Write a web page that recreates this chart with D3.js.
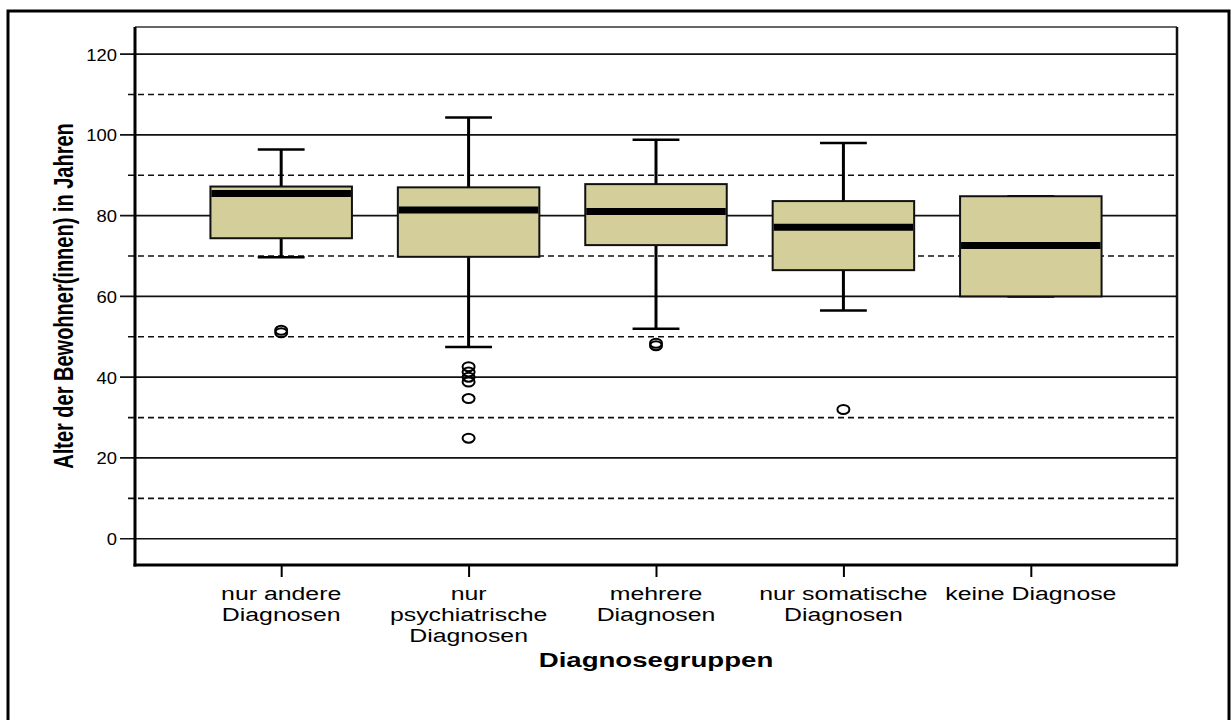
<!DOCTYPE html>
<html>
<head>
<meta charset="utf-8">
<script src="https://cdn.jsdelivr.net/npm/d3@7"></script>
<style>
  html, body { margin: 0; padding: 0; background: #fff; }
  svg { display: block; font-family: "Liberation Sans", Arial, Helvetica, sans-serif; }
</style>
</head>
<body>
<svg id="chart" width="1231" height="720"></svg>
<script>
// Diagnosis groups (x categories)
const categories = [
  ["nur andere", "Diagnosen"],
  ["nur", "psychiatrische", "Diagnosen"],
  ["mehrere", "Diagnosen"],
  ["nur somatische", "Diagnosen"],
  ["keine Diagnose"]
];
// Five-number summaries per group (age in years)
const whiskerLow  = [69.7, 47.5, 52.0, 56.5, 60.0];
const quartile1   = [74.4, 69.8, 72.7, 66.5, 60.0];
const medians     = [85.5, 81.4, 81.0, 77.1, 72.6];
const quartile3   = [87.2, 87.0, 87.8, 83.6, 84.8];
const whiskerHigh = [96.4, 104.3, 98.8, 98.0, 84.8];
// Outlying ages per group
const outliers = [
  [51.0, 51.6],
  [42.6, 41.3, 40.0, 38.8, 34.7, 24.9],
  [48.4, 47.8],
  [32.0],
  []
];
const majorTicks = [0, 20, 40, 60, 80, 100, 120];
const minorTicks = [10, 30, 50, 70, 90, 110];
const xTitle = "Diagnosegruppen";
const yTitle = "Alter der Bewohner(innen) in Jahren";

const svg = d3.select("#chart");
const SX = 1.38; // horizontal text stretch
const plot = { left: 135, right: 1177, top: 27, bottom: 565 };

// outer frame
svg.append("rect")
  .attr("x", 8).attr("y", 11).attr("width", 1221).attr("height", 800)
  .attr("fill", "none").attr("stroke", "#000").attr("stroke-width", 3);

const keys = categories.map((c, i) => i);
const x = d3.scalePoint().domain(keys).range([plot.left, plot.right]).padding(0.78);
const y = d3.scaleLinear().domain([-6.5, 126.7]).range([plot.bottom, plot.top]);
const step = x.step();
const boxW = step * 0.755;
const capW = step * 0.25;

// grid: solid at major ticks (running through the tick marks), dashed at minor ticks
svg.append("g").selectAll("line").data(majorTicks).join("line")
  .attr("x1", plot.left - 15).attr("x2", plot.right)
  .attr("y1", d => y(d)).attr("y2", d => y(d))
  .attr("stroke", "#111").attr("stroke-width", 1.7);
svg.append("g").selectAll("line").data(minorTicks).join("line")
  .attr("x1", plot.left - 7).attr("x2", plot.right)
  .attr("y1", d => y(d)).attr("y2", d => y(d))
  .attr("stroke", "#111").attr("stroke-width", 1.6)
  .attr("stroke-dasharray", "6,4");

// y axis labels
const yAxis = d3.axisLeft(y).tickValues(majorTicks).tickSize(0).tickPadding(0);
const gy = svg.append("g").attr("transform", `translate(${plot.left},0)`).call(yAxis);
gy.select(".domain").remove();
gy.attr("font-size", null);
gy.selectAll(".tick text")
  .attr("x", 0).attr("dy", null)
  .attr("transform", `translate(-18,6) scale(1.15,1)`)
  .attr("text-anchor", "end")
  .attr("fill", "#000")
  .style("font-size", "16px")
  .style("font-family", "'Liberation Sans', Arial, sans-serif");

// plot frame: thin top, right edge, heavy left and bottom axes
svg.append("line").attr("x1", plot.left).attr("x2", plot.right)
  .attr("y1", plot.top).attr("y2", plot.top).attr("stroke", "#333").attr("stroke-width", 1.5);
svg.append("line").attr("x1", plot.right).attr("x2", plot.right)
  .attr("y1", plot.top).attr("y2", plot.bottom).attr("stroke", "#111").attr("stroke-width", 2.5);
svg.append("line").attr("x1", plot.left).attr("x2", plot.left)
  .attr("y1", plot.top).attr("y2", plot.bottom + 1.5).attr("stroke", "#000").attr("stroke-width", 3);
svg.append("line").attr("x1", plot.left - 1.5).attr("x2", plot.right + 1)
  .attr("y1", plot.bottom).attr("y2", plot.bottom).attr("stroke", "#000").attr("stroke-width", 3);

// x ticks and multi-line category labels
const xAxis = d3.axisBottom(x).tickSize(12).tickFormat("");
const gx = svg.append("g").attr("transform", `translate(0,${plot.bottom})`).call(xAxis);
gx.select(".domain").remove();
gx.selectAll(".tick line").attr("stroke", "#000").attr("stroke-width", 2);

const lab = svg.append("g");
categories.forEach((lines, i) => {
  const t = lab.append("text")
    .attr("transform", `translate(${x(i)},599.5) scale(${SX},1)`)
    .attr("text-anchor", "middle").attr("font-size", 18).attr("fill", "#000");
  lines.forEach((ln, j) => {
    t.append("tspan").attr("x", 0).attr("y", j * 21.1).text(ln);
  });
});

// axis titles
svg.append("text")
  .attr("transform", `translate(${(plot.left + plot.right) / 2},666.5) scale(${SX},1)`)
  .attr("text-anchor", "middle").attr("font-size", 20).attr("font-weight", "bold")
  .attr("fill", "#000").text(xTitle);
svg.append("text")
  .attr("transform", `translate(73,${(plot.top + plot.bottom) / 2}) scale(${SX},1) rotate(-90)`)
  .attr("text-anchor", "middle").attr("font-size", 20).attr("font-weight", "bold")
  .attr("fill", "#000").text(yTitle);

// boxes
const boxes = svg.append("g");
keys.forEach(i => {
  const cx = x(i);
  const g = boxes.append("g");
  // whiskers
  g.append("line").attr("x1", cx).attr("x2", cx)
    .attr("y1", y(quartile3[i])).attr("y2", y(whiskerHigh[i]))
    .attr("stroke", "#000").attr("stroke-width", 3);
  g.append("line").attr("x1", cx).attr("x2", cx)
    .attr("y1", y(quartile1[i])).attr("y2", y(whiskerLow[i]))
    .attr("stroke", "#000").attr("stroke-width", 3);
  [whiskerHigh[i], whiskerLow[i]].forEach(v => {
    g.append("line").attr("x1", cx - capW / 2).attr("x2", cx + capW / 2)
      .attr("y1", y(v)).attr("y2", y(v))
      .attr("stroke", "#000").attr("stroke-width", 2.5);
  });
  // box
  g.append("rect")
    .attr("x", cx - boxW / 2).attr("width", boxW)
    .attr("y", y(quartile3[i])).attr("height", y(quartile1[i]) - y(quartile3[i]))
    .attr("fill", "#d3ce9a").attr("stroke", "#111").attr("stroke-width", 2);
  // median
  g.append("line").attr("x1", cx - boxW / 2 + 1).attr("x2", cx + boxW / 2 - 1)
    .attr("y1", y(medians[i])).attr("y2", y(medians[i]))
    .attr("stroke", "#000").attr("stroke-width", 7);
  // outliers
  g.selectAll("ellipse").data(outliers[i]).join("ellipse")
    .attr("cx", cx).attr("cy", d => y(d))
    .attr("rx", 6).attr("ry", 4.5)
    .attr("fill", "none").attr("stroke", "#000").attr("stroke-width", 2);
});
</script>
</body>
</html>
